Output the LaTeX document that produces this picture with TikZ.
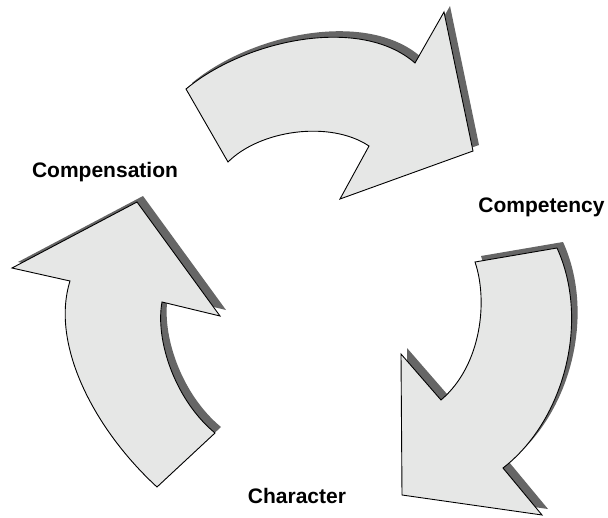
\documentclass[tikz,border=0pt]{standalone}
\usepackage{fontspec}
\setmainfont{Liberation Sans}
\definecolor{arrfill}{RGB}{230,231,230}
\definecolor{arrshadow}{RGB}{102,102,102}
\begin{document}
\begin{tikzpicture}[x=1pt,y=-1pt,
  arrowbody/.style={fill=arrfill,draw=black,line width=0.9pt,line join=miter},
  arrowshadow/.style={fill=arrshadow,draw=none},
  lbl/.style={font=\bfseries\fontsize{21}{24}\selectfont,anchor=base,inner sep=0pt}]
\useasboundingbox (0,0) rectangle (608,517);
\def\arrTop{(186,89) .. controls (245,40) and (360,15) .. (415,63) -- (444,12) -- (473,151) -- (340,199) -- (369,146) .. controls (330,120) and (260,130) .. (228,162) -- cycle}
\def\arrRight{(557,248) -- (475,262) .. controls (488,300) and (482,365) .. (441,400) -- (401,354) -- (402,495) -- (542,515) -- (503,468) .. controls (565,420) and (590,320) .. (557,248) -- cycle}
\def\arrLeft{(70,281) -- (12,268) -- (137,202) -- (220,316) -- (162,302) .. controls (155,340) and (175,400) .. (215,433) -- (157,487) .. controls (95,430) and (50,345) .. (70,281) -- cycle}
\begin{scope}[shift={(6,-6)}]
  \fill[arrowshadow] \arrTop;
  \fill[arrowshadow] \arrRight;
  \fill[arrowshadow] \arrLeft;
\end{scope}
\draw[arrowbody] \arrTop;
\draw[arrowbody] \arrRight;
\draw[arrowbody] \arrLeft;
\node[lbl] (comp) at (105,177) {Compensation};
\node[lbl] (compt) at (541.5,212) {Competency};
\node[lbl] (char) at (297,503) {Character};
\end{tikzpicture}
\end{document}
